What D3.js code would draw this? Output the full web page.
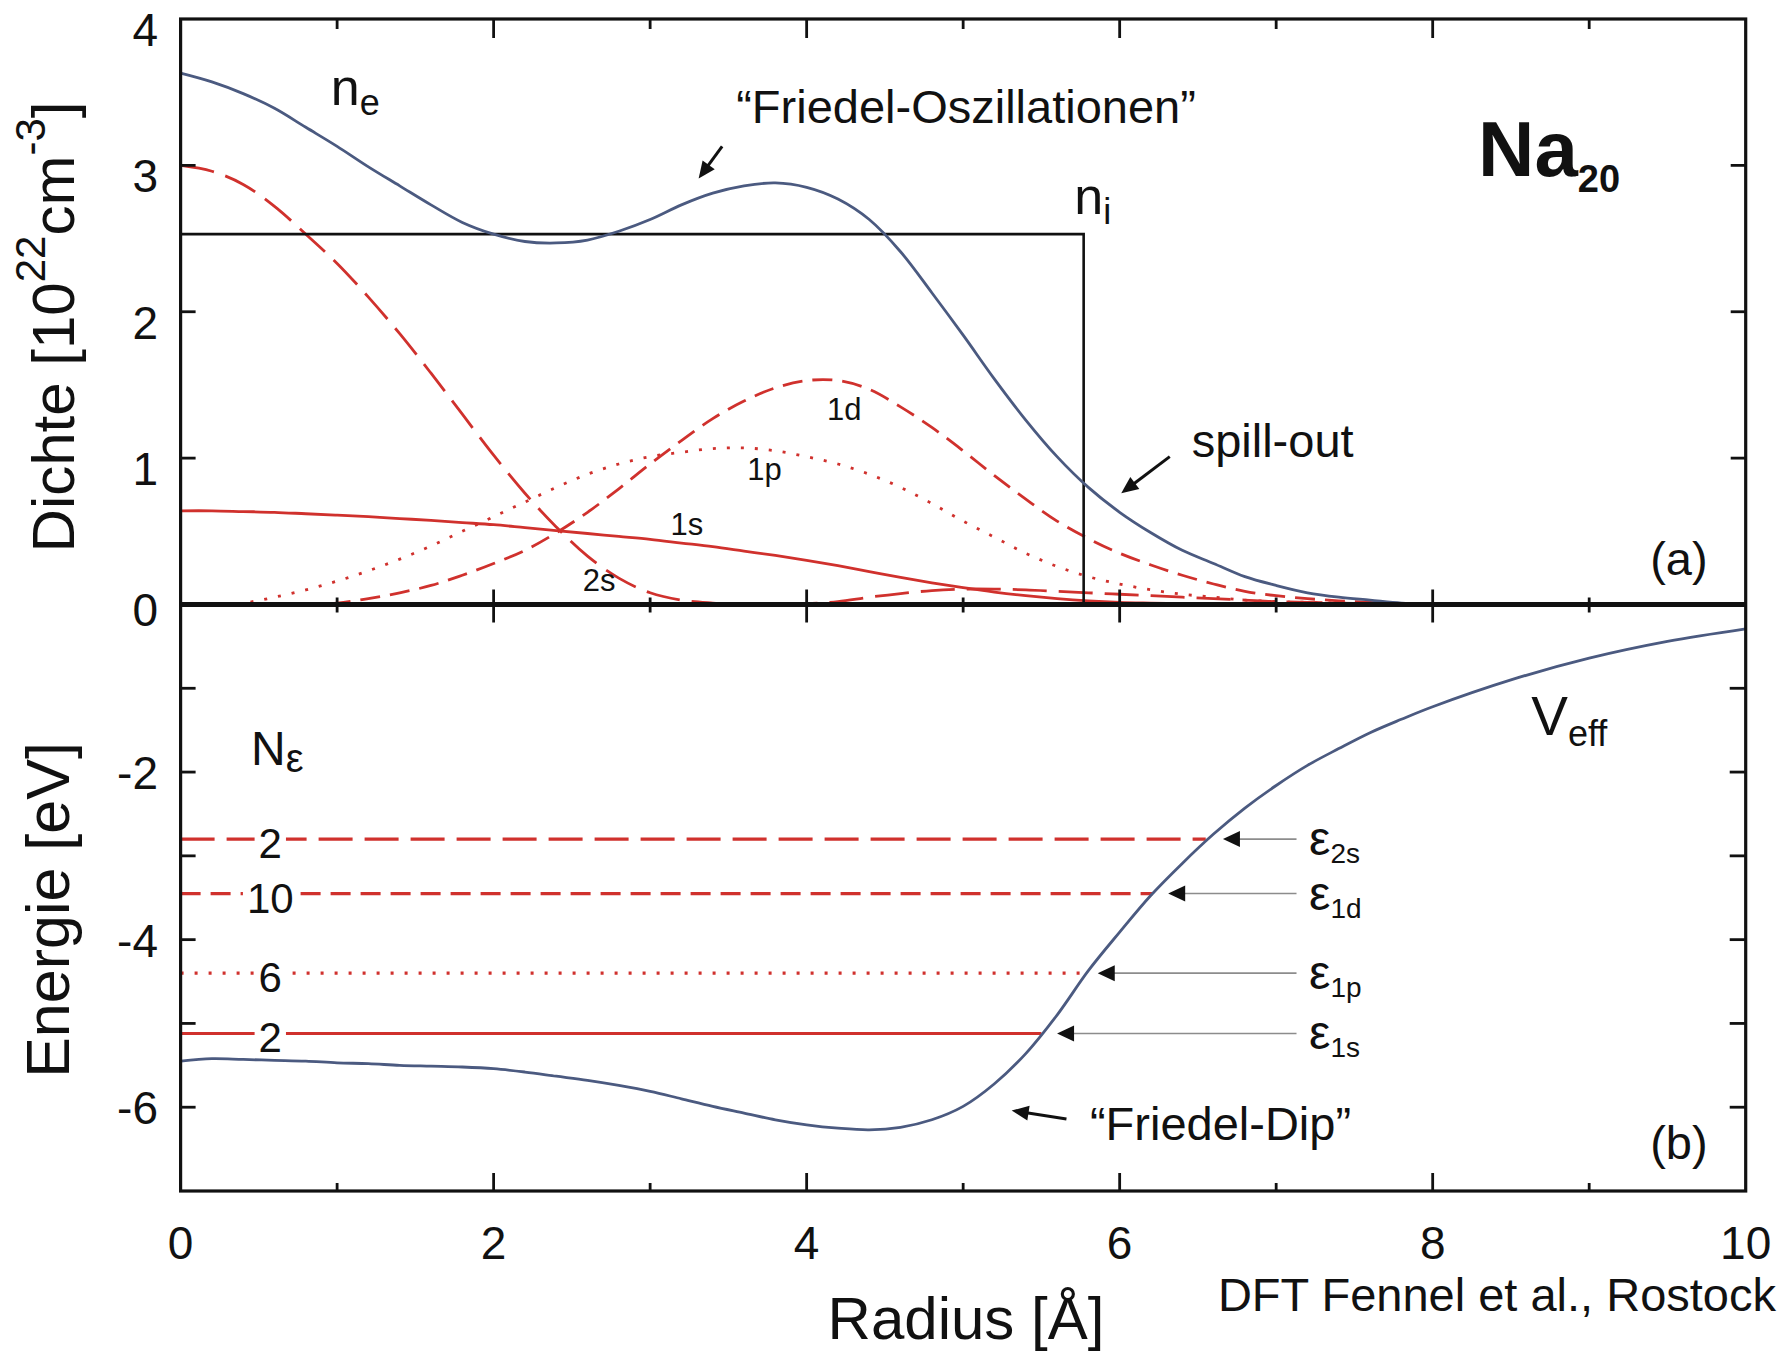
<!DOCTYPE html>
<html><head><meta charset="utf-8">
<script src="https://cdn.jsdelivr.net/npm/d3@7"></script>
<style>body{margin:0;background:#fff}svg{display:block}</style>
</head><body>
<svg id="chart" width="1785" height="1353"></svg>
<script>
// ---------------- DATA ----------------
const radius = [0,0.2,0.4,0.6,0.8,1,1.2,1.4,1.6,1.8,2,2.2,2.4,2.6,2.8,3,3.2,3.4,3.6,3.8,4,4.2,4.4,4.6,4.8,5,5.2,5.4,5.6,5.8,6,6.2,6.4,6.6,6.8,7,7.2,7.4,7.6,7.8,8,10];
const densE  = [3.63,3.57,3.49,3.39,3.26,3.13,2.99,2.86,2.73,2.61,2.53,2.48,2.47,2.49,2.55,2.63,2.73,2.81,2.86,2.88,2.85,2.77,2.63,2.41,2.13,1.84,1.54,1.26,1.01,0.80,0.63,0.49,0.37,0.28,0.19,0.13,0.08,0.05,0.03,0.01,0,0];
const dens1s = [0.64,0.64,0.635,0.63,0.62,0.61,0.60,0.587,0.575,0.56,0.545,0.525,0.505,0.485,0.465,0.445,0.42,0.395,0.365,0.335,0.302,0.265,0.225,0.185,0.148,0.115,0.085,0.06,0.04,0.025,0.015,0.01,0.006,0.004,0.002,0,0,0,0,0,0,0];
const dens2s = [3.0,2.96,2.87,2.72,2.53,2.33,2.10,1.85,1.58,1.30,1.02,0.76,0.53,0.33,0.18,0.08,0.03,0.01,0,0,0.005,0.02,0.05,0.075,0.095,0.105,0.105,0.10,0.09,0.08,0.07,0.06,0.05,0.04,0.03,0.02,0.015,0.01,0.005,0,0,0];
const dens1p = [0,0,0.01,0.05,0.10,0.16,0.23,0.31,0.40,0.50,0.60,0.70,0.80,0.89,0.96,1.01,1.04,1.065,1.07,1.05,1.01,0.96,0.89,0.80,0.69,0.57,0.46,0.35,0.26,0.19,0.14,0.10,0.07,0.05,0.03,0.02,0.015,0.01,0.005,0,0,0];
const dens1d = [0,0,0,0,0,0.01,0.04,0.08,0.13,0.20,0.28,0.37,0.49,0.63,0.79,0.96,1.12,1.27,1.39,1.48,1.53,1.53,1.47,1.35,1.21,1.05,0.88,0.72,0.57,0.45,0.35,0.27,0.20,0.14,0.09,0.06,0.04,0.025,0.015,0.005,0,0];
const ionRadius = [0,5.77,5.77];
const ionDens   = [2.53,2.53,0];

const vRadius = [0,0.2,0.4,0.6,0.8,1,1.2,1.4,1.6,1.8,2,2.2,2.4,2.6,2.8,3,3.2,3.4,3.6,3.8,4,4.2,4.4,4.6,4.8,5,5.2,5.4,5.6,5.8,6,6.2,6.4,6.6,6.8,7,7.2,7.4,7.6,7.8,8,8.5,9,9.5,10];
const vEff    = [-5.45,-5.42,-5.43,-5.44,-5.45,-5.47,-5.48,-5.50,-5.51,-5.52,-5.54,-5.58,-5.63,-5.68,-5.74,-5.81,-5.90,-5.99,-6.07,-6.15,-6.21,-6.25,-6.27,-6.24,-6.15,-5.99,-5.72,-5.36,-4.90,-4.37,-3.91,-3.47,-3.09,-2.74,-2.43,-2.16,-1.92,-1.72,-1.53,-1.37,-1.22,-0.90,-0.64,-0.44,-0.29];

const levelNames  = ['2s','1d','1p','1s'];
const levelEnergy = [-2.80,-3.45,-4.40,-5.12];
const levelOcc    = [2,10,6,2];
const levelEnd    = [6.55,6.21,5.77,5.50];

const xTickLabels  = [0,2,4,6,8,10];
const yTickLabelsA = [0,1,2,3,4];
const yTickLabelsB = [-2,-4,-6];

// ---------------- STYLE / LAYOUT ----------------
const RED = '#d0312d', BLUE = '#4b5a80', GRAY = '#8c8c8c';
const FONT = '"Liberation Sans", Arial, Helvetica, sans-serif';
const dashOf = {'1s': null, '2s': '34,12', '1d': '20,10', '1p': '3,11'};
const L = 180.6, R = 1745.7, TOP = 19, MID = 604.5, BOT = 1191;
const arrowTip  = [6.66, 6.31, 5.86, 5.60];
const arrowTail = 7.13, epsX = 7.21, occX = 0.573;

const svg = d3.select('#chart').style('font-family', FONT);
svg.append('rect').attr('width',1785).attr('height',1353).attr('fill','#fff');

const x  = d3.scaleLinear().domain([0,10]).range([L,R]);
const yA = d3.scaleLinear().domain([0,4]).range([MID,TOP]);
const yB = d3.scaleLinear().domain([-7,0]).range([BOT,MID]);

const defs = svg.append('defs');
defs.append('clipPath').attr('id','clipA').append('rect').attr('x',L).attr('y',TOP).attr('width',R-L).attr('height',MID-TOP);
defs.append('clipPath').attr('id','clipB').append('rect').attr('x',L).attr('y',MID).attr('width',R-L).attr('height',BOT-MID);

const gA = svg.append('g').attr('clip-path','url(#clipA)');
const gB = svg.append('g').attr('clip-path','url(#clipB)');

const smooth = d3.curveCatmullRom.alpha(0.5);
const lineA = d3.line().x(d=>x(d[0])).y(d=>yA(Math.max(0,d[1]))).curve(smooth);
const lineB = d3.line().x(d=>x(d[0])).y(d=>yB(d[1])).curve(smooth);
const zip = (xs, ys) => xs.map((v,i)=>[v, ys[i]]);

// orbital densities
const orbitals = [['1s',dens1s],['2s',dens2s],['1p',dens1p],['1d',dens1d]];
orbitals.forEach(([name, vals]) => {
  gA.append('path').attr('d', lineA(zip(radius, vals)))
    .attr('fill','none').attr('stroke',RED).attr('stroke-width',2.8)
    .attr('stroke-dasharray', dashOf[name]);
});
// ion density (jellium step)
gA.append('path').attr('d', d3.line().x(d=>x(d[0])).y(d=>yA(d[1]))(zip(ionRadius, ionDens)))
  .attr('fill','none').attr('stroke','#111').attr('stroke-width',2.6);
// electron density
gA.append('path').attr('d', lineA(zip(radius, densE)))
  .attr('fill','none').attr('stroke',BLUE).attr('stroke-width',2.8);

// energy levels
levelNames.forEach((name,i) => {
  const yy = yB(levelEnergy[i]);
  gB.append('line').attr('x1',x(0)).attr('x2',x(levelEnd[i])).attr('y1',yy).attr('y2',yy)
    .attr('stroke',RED).attr('stroke-width',3.2).attr('stroke-dasharray', dashOf[name]);
});
// V_eff
gB.append('path').attr('d', lineB(zip(vRadius, vEff)))
  .attr('fill','none').attr('stroke',BLUE).attr('stroke-width',2.8);

// occupation numbers with gap
levelNames.forEach((name,i) => {
  const yy = yB(levelEnergy[i]);
  const t = svg.append('text').attr('x',x(occX)).attr('y',yy+19).attr('text-anchor','middle')
    .style('font-size','42px').attr('fill','#111').text(levelOcc[i]);
  const bb = t.node().getBBox();
  svg.insert('rect', () => t.node()).attr('x',bb.x-4).attr('width',bb.width+8)
    .attr('y',yy-6).attr('height',12).attr('fill','#fff');
});

// arrow helper
function arrow(x1,y1,x2,y2,opt){
  const o = Object.assign({color:'#111', width:3, len:17, half:7.5}, opt||{});
  const dx=x2-x1, dy=y2-y1, d=Math.hypot(dx,dy), ux=dx/d, uy=dy/d;
  const bx=x2-ux*o.len, by=y2-uy*o.len;
  svg.append('line').attr('x1',x1).attr('y1',y1).attr('x2',bx+ux*2).attr('y2',by+uy*2)
    .attr('stroke',o.lineColor||o.color).attr('stroke-width',o.width);
  svg.append('path').attr('d',`M${x2},${y2}L${bx-uy*o.half},${by+ux*o.half}L${bx+uy*o.half},${by-ux*o.half}Z`)
    .attr('fill',o.color);
}

// level arrows + epsilon labels
levelNames.forEach((name,i) => {
  const yy = yB(levelEnergy[i]);
  arrow(x(arrowTail), yy, x(arrowTip[i]), yy, {lineColor:GRAY, width:1.6, len:17, half:8});
  const t = svg.append('text').attr('x',x(epsX)).attr('y',yy+16).style('font-size','48px').attr('fill','#111');
  t.append('tspan').text('ε');
  t.append('tspan').attr('dy',8).style('font-size','28px').text(name);
});

// ---------------- FRAME & TICKS ----------------
const frame = svg.append('g').attr('stroke','#111').attr('fill','none');
frame.append('rect').attr('x',L).attr('y',TOP).attr('width',R-L).attr('height',BOT-TOP).attr('stroke-width',3.2);
frame.append('line').attr('x1',L).attr('x2',R).attr('y1',MID).attr('y2',MID).attr('stroke-width',5);
const ticks = svg.append('g').attr('stroke','#111').attr('stroke-width',2.8);
for (let v=1; v<=9; v++){
  const major = v%2===0, xx = x(v);
  ticks.append('line').attr('x1',xx).attr('x2',xx).attr('y1',TOP).attr('y2',TOP+(major?19:10));
  ticks.append('line').attr('x1',xx).attr('x2',xx).attr('y1',MID).attr('y2',MID-(major?15:7));
  ticks.append('line').attr('x1',xx).attr('x2',xx).attr('y1',MID).attr('y2',MID+(major?18:8));
  ticks.append('line').attr('x1',xx).attr('x2',xx).attr('y1',BOT).attr('y2',BOT-(major?18:8));
}
[1,2,3].forEach(v => {
  ticks.append('line').attr('x1',L).attr('x2',L+15).attr('y1',yA(v)).attr('y2',yA(v));
  ticks.append('line').attr('x1',R).attr('x2',R-15).attr('y1',yA(v)).attr('y2',yA(v));
});
[-1,-2,-3,-4,-5,-6].forEach(v => {
  ticks.append('line').attr('x1',L).attr('x2',L+15).attr('y1',yB(v)).attr('y2',yB(v));
  ticks.append('line').attr('x1',R).attr('x2',R-16).attr('y1',yB(v)).attr('y2',yB(v));
});

// tick labels
const tl = svg.append('g').style('font-size','46px').attr('fill','#111');
xTickLabels.forEach(v => tl.append('text').attr('x',x(v)).attr('y',1259).attr('text-anchor','middle').text(v));
yTickLabelsA.forEach(v => tl.append('text').attr('x',158).attr('y',yA(v)+(v===0?21:27)).attr('text-anchor','end').text(v));
yTickLabelsB.forEach(v => tl.append('text').attr('x',158).attr('y',yB(v)+17).attr('text-anchor','end').text(String(v).replace('−','-')));

// axis titles
const ty = svg.append('text').attr('transform','translate(74,327) rotate(-90)').attr('text-anchor','middle').style('font-size','60px').attr('fill','#111');
ty.append('tspan').text('Dichte [10');
ty.append('tspan').attr('dy',-29).style('font-size','42px').text('22');
ty.append('tspan').attr('dy',29).text('cm');
ty.append('tspan').attr('dy',-29).style('font-size','42px').text('-3');
ty.append('tspan').attr('dy',29).text(']');
svg.append('text').attr('transform','translate(69,910) rotate(-90)').attr('text-anchor','middle').style('font-size','61px').attr('fill','#111').text('Energie [eV]');
svg.append('text').attr('x',966).attr('y',1339).attr('text-anchor','middle').style('font-size','60px').attr('fill','#111').text('Radius [Å]');
svg.append('text').attr('x',1776).attr('y',1311).attr('text-anchor','end').style('font-size','47px').attr('fill','#111').text('DFT Fennel et al., Rostock');

// ---------------- ANNOTATIONS ----------------
function sub(px, py, main, s, mainSize, subSize, dy, weight){
  const t = svg.append('text').attr('x',px).attr('y',py).attr('fill','#111').style('font-size',mainSize+'px');
  if (weight) t.style('font-weight',weight);
  t.append('tspan').text(main);
  t.append('tspan').attr('dy',dy).style('font-size',subSize+'px').text(s);
}
sub(x(0.96), yA(3.41), 'n', 'e', 52, 36, 10);
sub(x(5.71), yA(2.67), 'n', 'i', 52, 36, 10);
sub(x(8.29), yA(2.93), 'Na', '20', 78, 38, 16, 'bold');
sub(x(0.45), yB(-1.92), 'N', 'ε', 48, 40, 7);
sub(x(8.63), yB(-1.56), 'V', 'eff', 55, 36, 11);

const ann = svg.append('g').attr('fill','#111');
ann.append('text').attr('x',x(3.55)).attr('y',yA(3.29)).style('font-size','47px').text('“Friedel-Oszillationen”');
ann.append('text').attr('x',x(6.46)).attr('y',yA(1.01)).style('font-size','47px').text('spill-out');
ann.append('text').attr('x',x(9.39)).attr('y',yA(0.2)).style('font-size','47px').text('(a)');
ann.append('text').attr('x',x(9.39)).attr('y',yB(-6.62)).style('font-size','47px').text('(b)');
ann.append('text').attr('x',x(5.81)).attr('y',yB(-6.39)).style('font-size','47px').text('“Friedel-Dip”');
[['1d',4.13,1.26],['1p',3.62,0.85],['1s',3.13,0.475],['2s',2.57,0.09]].forEach(([s,xv,yv]) =>
  ann.append('text').attr('x',x(xv)).attr('y',yA(yv)).style('font-size','31px').text(s));

arrow(x(3.46), yA(3.13), x(3.31), yA(2.91));
arrow(x(6.32), yA(1.01), x(6.01), yA(0.76));
arrow(x(5.66), yB(-6.14), x(5.31), yB(-6.04));
</script>
</body></html>
